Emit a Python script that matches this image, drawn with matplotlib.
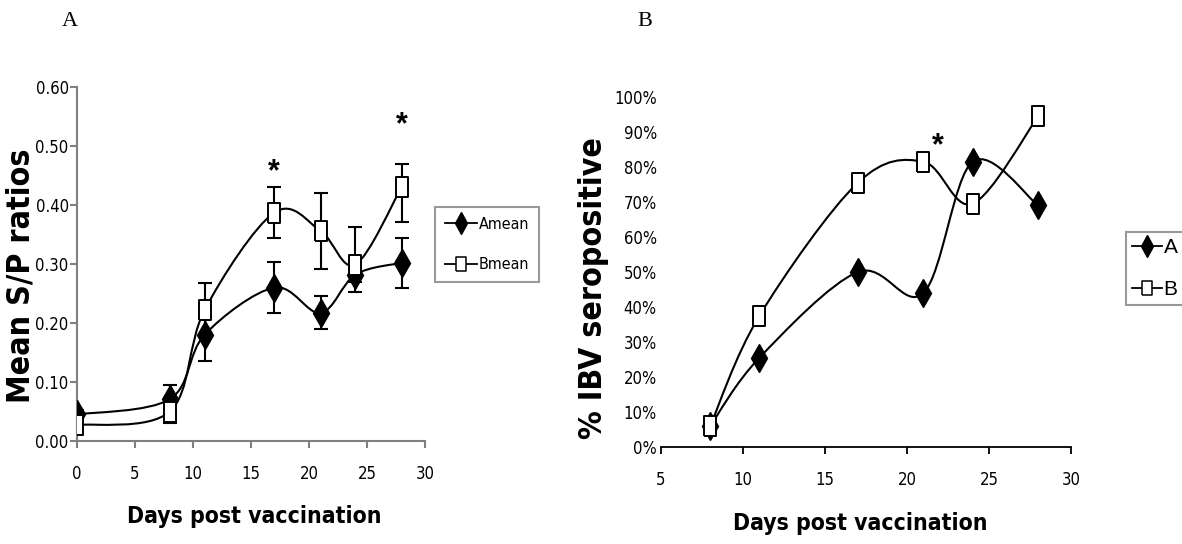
import numpy as np
import matplotlib
matplotlib.use('Agg')
import matplotlib.pyplot as plt
from matplotlib.path import Path
from matplotlib.patches import PathPatch

# S/P ratio means (panel A)
days_sp = [0, 8, 11, 17, 21, 24, 28]
a_mean = [0.045, 0.071, 0.180, 0.260, 0.217, 0.282, 0.302]
b_mean = [0.027, 0.050, 0.222, 0.387, 0.356, 0.299, 0.431]
a_err = [0.008, 0.024, 0.045, 0.043, 0.028, 0.012, 0.042]
b_err_lo = [0.005, 0.019, 0.045, 0.043, 0.065, 0.046, 0.060]
b_err_hi = [0.005, 0.019, 0.045, 0.043, 0.064, 0.063, 0.039]
sp_ticks = [0.0, 0.1, 0.2, 0.3, 0.4, 0.5, 0.6]
sp_star_days = [17, 28]
sp_star_vals = [0.455, 0.535]

# % seropositive (panel B)
days_pos = [8, 11, 17, 21, 24, 28]
a_pos = [6, 25.5, 50, 44, 81.5, 69]
b_pos = [6, 37.5, 75.5, 81.5, 69.5, 94.5]
pos_ticks = list(range(0, 101, 10))
pos_star_day = 21.9
pos_star_val = 86

sans = ['Liberation Sans', 'DejaVu Sans']
narrow = dict(family=['DejaVu Sans'], stretch='condensed')


def smooth_path(x, y):
    # Excel-style smoothed line: Catmull-Rom segments as cubic Beziers
    pts = np.column_stack([x, y]).astype(float)
    n = len(pts)
    verts = [pts[0]]
    codes = [Path.MOVETO]
    for i in range(n - 1):
        p0 = pts[max(i - 1, 0)]
        p1 = pts[i]
        p2 = pts[i + 1]
        p3 = pts[min(i + 2, n - 1)]
        verts += [p1 + (p2 - p0) / 6, p2 - (p3 - p1) / 6, p2]
        codes += [Path.CURVE4] * 3
    return Path(verts, codes)


rect = [(-0.65, -1), (0.65, -1), (0.65, 1), (-0.65, 1), (-0.65, -1)]
a_style = dict(marker='d', markersize=14, color='black', markerfacecolor='black',
               markeredgecolor='black', linestyle='none', zorder=5)
b_style = dict(marker=rect, markersize=14, color='black', markerfacecolor='white',
               markeredgecolor='black', markeredgewidth=1.4, linestyle='none', zorder=6)

fig = plt.figure(figsize=(11.82, 5.44), dpi=100)

# ---- panel A ----
ax1 = fig.add_axes([77 / 1182, 1 - 441 / 544, 348 / 1182, 354 / 544])
ax1.set_xlim(0, 30)
ax1.set_ylim(0, 0.6)

ax1.errorbar(days_sp, a_mean, yerr=a_err, fmt='none', ecolor='black', elinewidth=1.5,
             capsize=4.8, capthick=1.5, zorder=3)
ax1.errorbar(days_sp, b_mean, yerr=[b_err_lo, b_err_hi], fmt='none', ecolor='black',
             elinewidth=1.5, capsize=4.8, capthick=1.5, zorder=3)
ax1.add_patch(PathPatch(smooth_path(days_sp, a_mean), fill=False, lw=1.5, ec='black', zorder=4))
ax1.add_patch(PathPatch(smooth_path(days_sp, b_mean), fill=False, lw=1.5, ec='black', zorder=4))
ax1.plot(days_sp, a_mean, **a_style)
ax1.plot(days_sp, b_mean, **b_style)
for d, v in zip(sp_star_days, sp_star_vals):
    ax1.text(d, v, '*', ha='center', va='center', fontsize=22, fontweight='bold', family=sans)

ax1.set_yticks(sp_ticks)
ax1.set_yticklabels(['%.2f' % t for t in sp_ticks], fontsize=12, **narrow)
ax1.set_xticks(range(0, 31, 5))
ax1.set_xticklabels([str(t) for t in range(0, 31, 5)], fontsize=12, **narrow)
for s in ['top', 'right']:
    ax1.spines[s].set_visible(False)
for s in ['left', 'bottom']:
    ax1.spines[s].set_color('#808080')
    ax1.spines[s].set_linewidth(1.5)
ax1.tick_params(axis='both', direction='out', length=5, width=1.5, color='#808080')
ax1.tick_params(axis='x', pad=12)
ax1.tick_params(axis='y', pad=1)
ax1.set_ylabel('Mean S/P ratios', fontsize=23, fontweight='bold', **narrow)
ax1.yaxis.set_label_coords(-0.115, 0.466)
ax1.set_xlabel('Days post vaccination', fontsize=16.5, fontweight='bold', **narrow)
ax1.xaxis.set_label_coords(0.51, -0.18)

h_a = ax1.plot([], [], color='black', lw=1.3, marker='d', markersize=11,
               markerfacecolor='black')[0]
h_b = ax1.plot([], [], color='black', lw=1.3, marker=rect, markersize=10,
               markerfacecolor='white', markeredgewidth=1.1)[0]
leg1 = ax1.legend([h_a, h_b], ['Amean', 'Bmean'], loc='upper left',
                  bbox_to_anchor=(435 / 1182, 1 - 207 / 544), bbox_transform=fig.transFigure,
                  borderaxespad=0, fancybox=False, edgecolor='#808080', handlelength=2.0,
                  handletextpad=0.15, labelspacing=1.6, borderpad=0.6,
                  prop={'family': 'DejaVu Sans', 'stretch': 'condensed', 'size': 11.5})
leg1.get_frame().set_linewidth(1.5)

# ---- panel B ----
ax2 = fig.add_axes([661 / 1182, 1 - 447 / 544, 410 / 1182, 350 / 544])
ax2.set_xlim(5, 30)
ax2.set_ylim(0, 100)
ax2.add_patch(PathPatch(smooth_path(days_pos, a_pos), fill=False, lw=1.5, ec='black', zorder=4))
ax2.add_patch(PathPatch(smooth_path(days_pos, b_pos), fill=False, lw=1.5, ec='black', zorder=4))
ax2.plot(days_pos, a_pos, **a_style)
ax2.plot(days_pos, b_pos, **b_style)
ax2.text(pos_star_day, pos_star_val, '*', ha='center', va='center', fontsize=22,
         fontweight='bold', family=sans)

ax2.set_yticks(pos_ticks)
ax2.set_yticklabels(['%d%%' % t for t in pos_ticks], fontsize=12, **narrow)
ax2.set_xticks(range(5, 31, 5))
ax2.set_xticklabels([str(t) for t in range(5, 31, 5)], fontsize=12, **narrow)
for s in ['top', 'right', 'left']:
    ax2.spines[s].set_visible(False)
ax2.spines['bottom'].set_linewidth(1.3)
ax2.tick_params(axis='x', direction='out', length=5, width=1.3, pad=12)
ax2.tick_params(axis='y', length=0, pad=3)
ax2.set_ylabel('% IBV seropositive', fontsize=23, fontweight='bold', **narrow)
ax2.yaxis.set_label_coords(-0.127, 0.454)
ax2.set_xlabel('Days post vaccination', fontsize=16.5, fontweight='bold', **narrow)
ax2.xaxis.set_label_coords(0.485, -0.186)

leg2 = ax2.legend([h_a, h_b], ['A', 'B'], loc='upper left',
                  bbox_to_anchor=(1126 / 1182, 1 - 232 / 544), bbox_transform=fig.transFigure,
                  borderaxespad=0, fancybox=False, edgecolor='#808080', handlelength=1.45,
                  handletextpad=0.05, labelspacing=1.1, borderpad=0.3,
                  prop={'family': sans, 'size': 15})
leg2.get_frame().set_linewidth(1.5)

fig.text(70 / 1182, 1 - 22 / 544, 'A', family='Liberation Serif', fontsize=16, ha='center', va='center')
fig.text(645 / 1182, 1 - 22 / 544, 'B', family='Liberation Serif', fontsize=16, ha='center', va='center')

fig.savefig('out.png', dpi=100)
